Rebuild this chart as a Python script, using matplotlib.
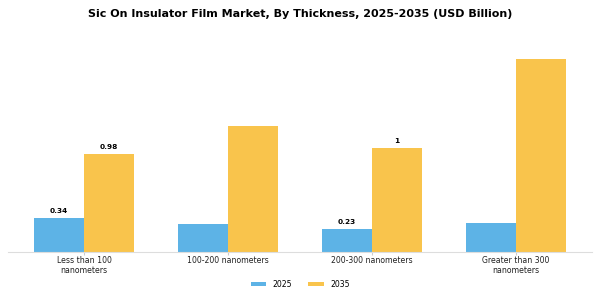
import numpy as np
import matplotlib
matplotlib.use("Agg")
import matplotlib.pyplot as plt

# values
categories = ["Less than 100\nnanometers", "100-200 nanometers", "200-300 nanometers", "Greater than 300\nnanometers"]
years = ["2025", "2035"]
values_2025 = [0.34, 0.28, 0.23, 0.29]
values_2035 = [0.98, 1.26, 1.04, 1.93]
labels_2025 = ["0.34", "", "0.23", ""]
labels_2035 = ["0.98", "", "1", ""]

blue = "#5DB3E6"
yellow = "#F9C44C"

fig = plt.figure(figsize=(6, 3), dpi=100)
ax = fig.add_axes([0.013, 0.16, 0.974, 0.707])

x = np.arange(len(categories))
w = 0.35
b1 = ax.bar(x - w / 2, values_2025, w, color=blue, label=years[0])
b2 = ax.bar(x + w / 2, values_2035, w, color=yellow, label=years[1])

for bars, labs in ((b1, labels_2025), (b2, labels_2035)):
    for rect, lab in zip(bars, labs):
        if lab:
            ax.annotate(lab, (rect.get_x() + rect.get_width() / 2, rect.get_height()),
                        xytext=(0, 3), textcoords="offset points",
                        ha="center", va="bottom", fontsize=5.3, fontweight="bold")

ax.set_xlim(-0.53, len(categories) - 0.47)
ax.set_ylim(0, max(values_2035) * 1.1)
ax.set_xticks(x)
ax.set_xticklabels(categories, fontsize=5.6, color="#222222", linespacing=1.05)
ax.tick_params(axis="x", length=2, color="#cccccc", pad=1)
ax.set_yticks([])
for s in ["top", "right", "left"]:
    ax.spines[s].set_visible(False)
ax.spines["bottom"].set_color("#dddddd")

fig.suptitle("Sic On Insulator Film Market, By Thickness, 2025-2035 (USD Billion)",
             fontsize=8, fontweight="bold", y=0.97)
fig.legend(loc="center", ncol=2, frameon=False, fontsize=5.6,
           bbox_to_anchor=(0.5, 0.053), handlelength=2.0, handleheight=0.55,
           handletextpad=0.8, columnspacing=2.1)

fig.savefig("out.png", dpi=100)
